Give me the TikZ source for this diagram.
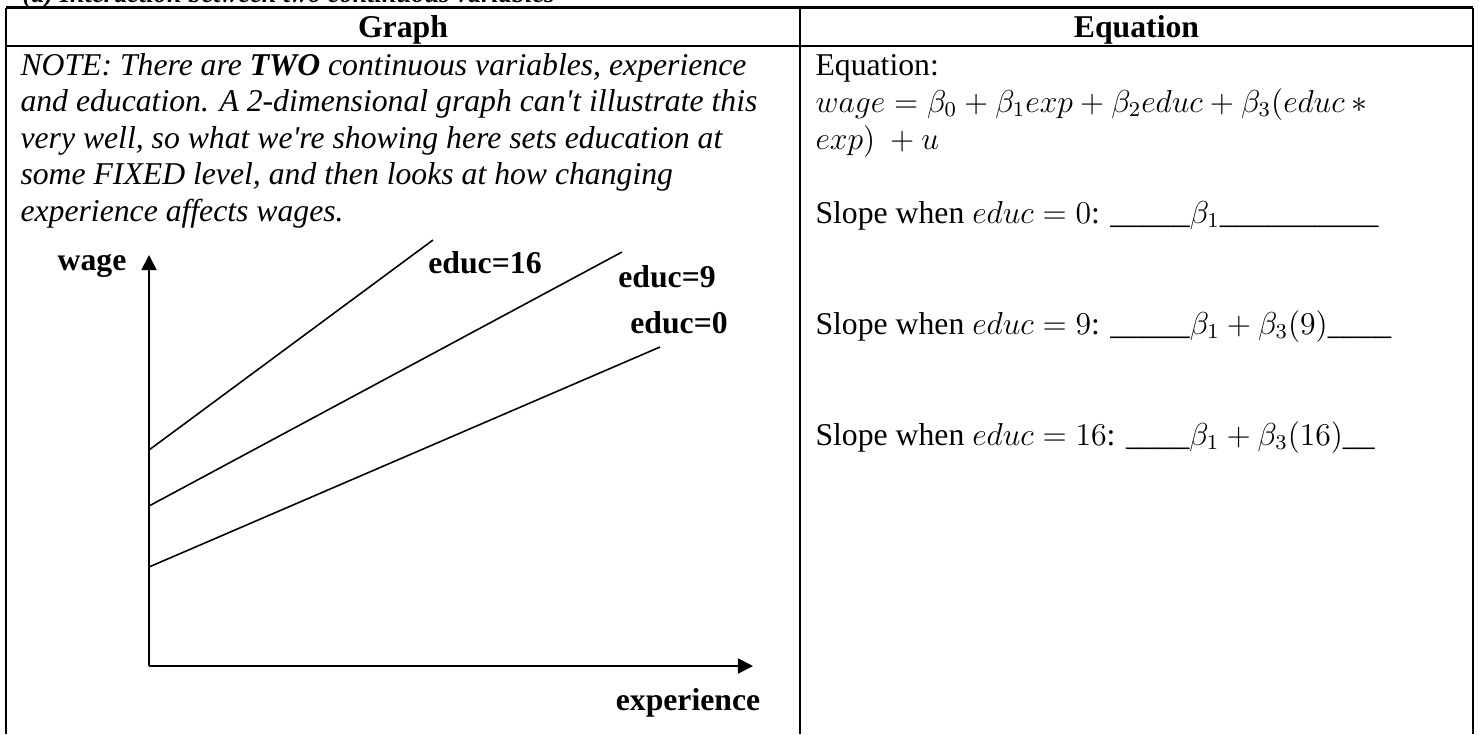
\documentclass[tikz,border=0pt]{standalone}
\usepackage{fontspec}
\setmainfont{Liberation Serif}
\usepackage{amsmath}
\usetikzlibrary{arrows.meta}

\begin{document}
\begin{tikzpicture}[
        x=0.3785pt, y=-0.3785pt,
        font=\fontsize{12}{13.8}\selectfont,
        every node/.style={inner sep=0pt},
        tableline/.style={line width=1pt},
        axis/.style={line width=0.7pt, -{Triangle[length=5.7pt, width=5.7pt]}},
        wageline/.style={line width=0.6pt},
        axislabel/.style={font=\fontsize{12}{13.8}\selectfont\bfseries, anchor=base},
        txt/.style={anchor=base west}
        ]
    \useasboundingbox (0,0) rectangle (1479,734);

    % heading above the table, cut by the page edge
    \node[txt, font=\fontsize{10}{12}\selectfont\bfseries\itshape] (title) at (22,2)
        {(d) Interaction between two continuous variables};

    % table
    \draw[tableline] (6,7.5) -- (1473,7.5) (6,46) -- (1473,46);
    \draw[tableline] (6,7.5) -- (6,734) (800,7.5) -- (800,734) (1473,7.5) -- (1473,734);
    \node[axislabel] (graphhead) at (403,37) {Graph};
    \node[axislabel] (eqhead) at (1136.5,37) {Equation};

    % note in the left column
    \foreach \line [count=\i] in {
        {NOTE: There are \textbf{TWO} continuous variables, experience},
        {and education. A 2-dimensional graph can\textquotesingle t illustrate this},
        {very well, so what we\textquotesingle re showing here sets education at},
        {some FIXED level, and then looks at how changing},
        {experience affects wages.}}
        \node[txt, font=\fontsize{12}{13.8}\selectfont\itshape] (note\i) at (20,{75+36.5*(\i-1)}) {\line};

    % graph
    \coordinate (origin) at (149,666);
    \coordinate (ytip) at (149,255);
    \coordinate (xtip) at (753,666);
    \draw[axis] (origin) -- (ytip);
    \draw[axis] (origin) -- (xtip);
    \node[axislabel] (wage) at (92,270) {wage};
    \node[axislabel] (exper) at (688,710) {experience};

    \coordinate (start16) at (149,450);
    \coordinate (end16) at (433,240);
    \coordinate (start9) at (149,506);
    \coordinate (end9) at (622,252);
    \coordinate (start0) at (149,567);
    \coordinate (end0) at (660,347);
    \draw[wageline] (start16) -- (end16);
    \draw[wageline] (start9) -- (end9);
    \draw[wageline] (start0) -- (end0);
    \node[axislabel] (lab16) at (485,273) {educ=16};
    \node[axislabel] (lab9) at (667,287) {educ=9};
    \node[axislabel] (lab0) at (679,333) {educ=0};

    % equation column
    \node[txt] (eq) at (815,75) {Equation:};
    \node[txt] (eqa) at (815,112) {$wage = \beta_0 + \beta_1 exp + \beta_2 educ + \beta_3(educ \ast{}$};
    \node[txt] (eqb) at (815,149) {$exp)\ +u$};
    \node[txt] (slope0) at (815,223)
        {Slope when $educ = 0$: \_\_\_\_\_$\beta_1$\_\_\_\_\_\_\_\_\_\_};
    \node[txt] (slope9) at (815,334)
        {Slope when $educ = 9$: \_\_\_\_\_$\beta_1 + \beta_3(9)$\_\_\_\_};
    \node[txt] (slope16) at (815,445)
        {Slope when $educ = 16$: \_\_\_\_$\beta_1 + \beta_3(16)$\_\_};
\end{tikzpicture}
\end{document}
